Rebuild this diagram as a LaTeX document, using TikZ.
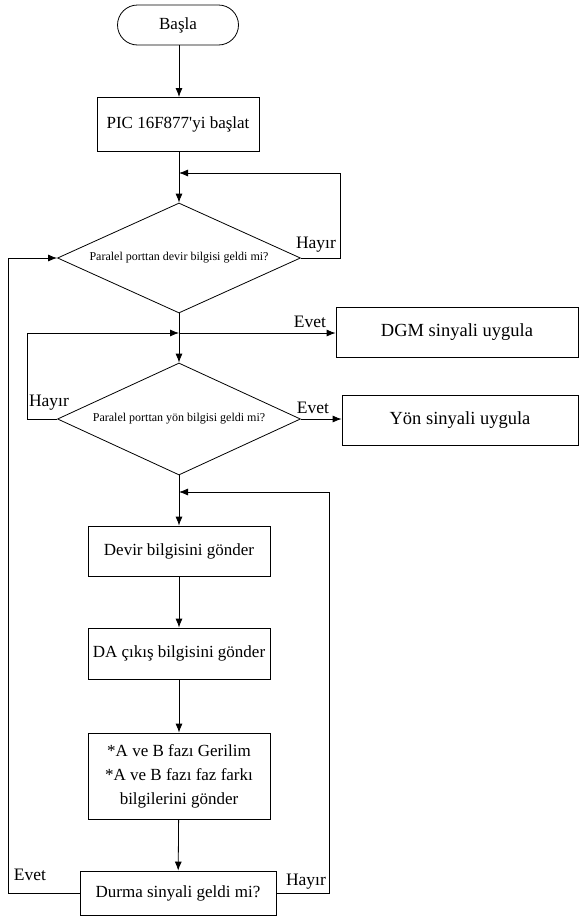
\documentclass[tikz,border=0pt]{standalone}
\usepackage{fontspec}
\setmainfont{Liberation Serif}[Ligatures=TeXOff]
\usetikzlibrary{arrows.meta,shapes.geometric}
\begin{document}
\begin{tikzpicture}[x=1pt,y=-1pt, line width=0.8pt,
 box/.style={draw, rectangle, inner sep=0pt, align=center, font=\fontsize{17}{24}\selectfont},
 bigbox/.style={box, font=\fontsize{18.5}{22}\selectfont},
 dec/.style={draw, diamond, aspect=2.2, inner sep=0pt, font=\fontsize{12}{14}\selectfont},
 lbl/.style={font=\fontsize{17.5}{20}\selectfont, inner sep=0pt},
 arr/.style={-{Latex[length=9pt,width=7pt]}}]
\fill[white] (0,0) rectangle (580,916);
\useasboundingbox (0,0) rectangle (580,916);

\node[box, rounded corners=20pt, minimum width=121pt, minimum height=40pt] (start) at (178,25) {Başla};
\node[box, minimum width=162pt, minimum height=54pt] (init) at (178,124) {PIC 16F877'yi başlat};
\node[dec, minimum width=243pt, minimum height=110pt] (d1) at (179,258) {Paralel porttan devir bilgisi geldi mi?};
\node[bigbox, minimum width=242pt, minimum height=50pt] (dgm) at (457,332) {DGM sinyali uygula};
\node[dec, minimum width=243pt, minimum height=112pt] (d2) at (179,419) {Paralel porttan yön bilgisi geldi mi?};
\node[bigbox, minimum width=236pt, minimum height=50pt] (yon) at (460,420) {Yön sinyali uygula};
\node[box, minimum width=182pt, minimum height=50pt] (devir) at (179,551) {Devir bilgisini gönder};
\node[box, minimum width=182pt, minimum height=51pt] (da) at (179,653.5) {DA çıkış bilgisini gönder};
\node[box, minimum width=182pt, minimum height=86pt] (faz) at (179,776) {*A ve B fazı Gerilim\\*A ve B fazı faz farkı\\bilgilerini gönder};
\node[box, minimum width=196pt, minimum height=44pt] (durma) at (178,893) {Durma sinyali geldi mi?};

\coordinate (j1) at (179,173);
\coordinate (j2) at (179,333);
\coordinate (j3) at (179,492);
\coordinate (r1a) at (340,258);
\coordinate (r1b) at (340,173);
\coordinate (l2a) at (27,419);
\coordinate (l2b) at (27,333);
\coordinate (o1) at (8,893);
\coordinate (o2) at (8,258);
\coordinate (r3a) at (329,893);
\coordinate (r3b) at (329,492);

\draw[arr] (start.south -| 179,0) -- (179,97);
\draw[arr] (init.south -| j1) -- (d1.north);
\draw[arr] (d1.east) -- (r1a) -- (r1b) -- (j1);
\draw (d1.south) -- (j2);
\draw[arr] (j2) -- (d2.north);
\draw[arr] (j2) -- (dgm.west |- j2);
\draw[arr] (d2.west) -- (l2a) -- (l2b) -- (j2);
\draw[arr] (d2.east) -- (yon.west |- d2.east);
\draw (d2.south) -- (j3);
\draw[arr] (j3) -- (devir.north);
\draw[arr] (devir) -- (da);
\draw[arr] (da) -- (faz);
\draw[arr] (faz) -- (durma);
\draw[arr] (durma.west |- o1) -- (o1) -- (o2) -- (d1.west);
\draw[arr] (durma.east |- r3a) -- (r3a) -- (r3b) -- (j3);

\node[lbl] (h1) at (316,245) {Hayır};
\node[lbl] (e1) at (310,322) {Evet};
\node[lbl] (h2) at (49,403) {Hayır};
\node[lbl] (e2) at (313,408) {Evet};
\node[lbl] (e3) at (30,875) {Evet};
\node[lbl] (h3) at (306,882) {Hayır};
\end{tikzpicture}
\end{document}
